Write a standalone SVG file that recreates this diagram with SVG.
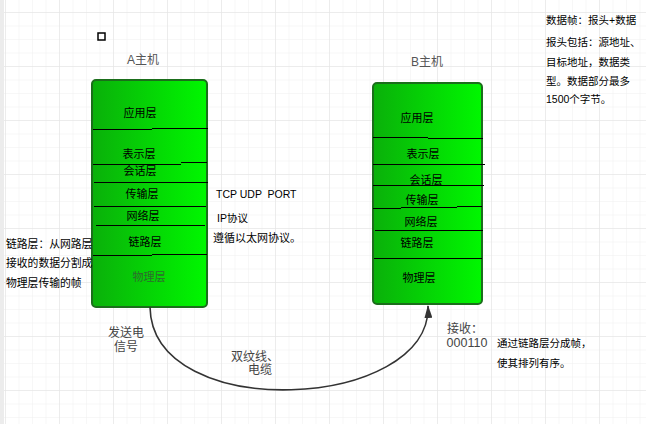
<svg xmlns="http://www.w3.org/2000/svg" width="646" height="424" viewBox="0 0 646 424">
<defs>
<pattern id="gMinor" x="5" y="12" width="13.5" height="13.5" patternUnits="userSpaceOnUse">
<path d="M0,0 H13.5 M0,0 V13.5" stroke="#efefef" stroke-width="1" fill="none"/>
</pattern>
<pattern id="gMajor" x="5" y="12" width="54" height="54" patternUnits="userSpaceOnUse">
<path d="M0,0 H54 M0,0 V54" stroke="#e2e2e2" stroke-width="1" fill="none"/>
</pattern>
<linearGradient id="greenGrad" x1="0" y1="0" x2="1" y2="0">
<stop offset="0" stop-color="#0ab00a"/>
<stop offset="1" stop-color="#00f800"/>
</linearGradient>
<marker id="arrow" viewBox="0 0 13 8" refX="12" refY="4" markerWidth="13" markerHeight="8" markerUnits="userSpaceOnUse" orient="auto">
<path d="M0,0 L13,4 L0,8 Z" fill="#333"/>
</marker>
<style>
.host{fill:url(#greenGrad);stroke:#1b6e1b;stroke-width:2}
.sep{stroke:#000;stroke-width:1;fill:none}
.lbl{font-family:"Liberation Sans","Noto Sans CJK SC",sans-serif;font-size:11px;fill:#000;text-anchor:middle;dominant-baseline:central}
.title{font-family:"Liberation Sans","Noto Sans CJK SC",sans-serif;font-size:12px;fill:#555;text-anchor:middle;dominant-baseline:central}
.note{font-family:"Liberation Sans","Noto Sans CJK SC",sans-serif;font-size:10.5px;fill:#000;dominant-baseline:central;white-space:pre}
.gray{font-family:"Liberation Sans","Noto Sans CJK SC",sans-serif;font-size:12px;fill:#444;text-anchor:middle;dominant-baseline:central}
.conn{fill:none;stroke:#333;stroke-width:1.6}
</style>
</defs>
<rect width="646" height="424" fill="#fff"/>
<rect width="646" height="424" fill="url(#gMinor)"/>
<rect width="646" height="424" fill="url(#gMajor)"/>
<rect x="0" y="0" width="4" height="424" fill="#ececec"/>
<rect x="98" y="33" width="7" height="7" fill="none" stroke="#000" stroke-width="1.5"/>

<g id="hostA">
<text class="title" x="143" y="60">A主机</text>
<rect class="host" x="92" y="80" width="115" height="227" rx="4"/>
<path class="sep" d="M93,129.5 H152 M152,128.5 H208"/>
<path class="sep" d="M93,164.5 H181 M181,162.5 H207"/>
<path class="sep" d="M94,182.5 H208"/>
<path class="sep" d="M94,206.5 H206"/>
<path class="sep" d="M96,225.5 H205"/>
<path class="sep" d="M93,255.5 H152 M152,254.5 H207"/>
<text class="lbl" x="140" y="113">应用层</text>
<text class="lbl" x="139" y="154">表示层</text>
<text class="lbl" x="140" y="171">会话层</text>
<text class="lbl" x="142" y="194">传输层</text>
<text class="lbl" x="143" y="216">网络层</text>
<text class="lbl" x="145" y="242">链路层</text>
<text class="lbl" x="149" y="277" style="fill:#2e6b2e">物理层</text>
</g>

<g id="hostB">
<text class="title" x="427" y="62">B主机</text>
<rect class="host" x="373" y="83" width="109" height="221" rx="4"/>
<path class="sep" d="M373,137.5 H428 M428,138.5 H483"/>
<path class="sep" d="M373,164.5 H485"/>
<path class="sep" d="M373,185.5 H484"/>
<path class="sep" d="M373,208.5 H401 M401,207.5 H457 M457,206.5 H482"/>
<path class="sep" d="M375,230.5 H483"/>
<path class="sep" d="M374,258.5 H482"/>
<text class="lbl" x="417" y="118">应用层</text>
<text class="lbl" x="423" y="154">表示层</text>
<text class="lbl" x="426" y="180">会话层</text>
<text class="lbl" x="422" y="200">传输层</text>
<text class="lbl" x="421" y="222">网络层</text>
<text class="lbl" x="417" y="243">链路层</text>
<text class="lbl" x="419" y="278">物理层</text>
</g>

<g id="connectors">
<path class="conn" d="M150,307 C152,425 432,410 428,306" marker-end="url(#arrow)"/>
</g>

<g id="labels">
<text class="gray" x="126" y="333">发送电</text>
<text class="gray" x="126" y="347">信号</text>
<text class="gray" x="255" y="357">双纹线、</text>
<text class="gray" x="260" y="370">电缆</text>
<text class="gray" x="465" y="329">接收：</text>
<text class="gray" x="467" y="343" style="font-size:12.5px">000110</text>
<text class="note" x="497" y="343">通过链路层分成帧，</text>
<text class="note" x="497" y="363">使其排列有序。</text>
<text class="note" x="216" y="194">TCP UDP  PORT</text>
<text class="note" x="217" y="218">IP协议</text>
<text class="note" x="213" y="238" style="font-size:11px">遵循以太网协议。</text>
<text class="note" x="6" y="244" style="font-size:10.8px">链路层：从网路层</text>
<text class="note" x="6" y="263" style="font-size:10.8px">接收的数据分割成</text>
<text class="note" x="6" y="283" style="font-size:10.8px">物理层传输的帧</text>
<text class="note" x="546" y="20">数据帧：报头+数据</text>
<text class="note" x="546" y="41.5">报头包括：源地址、</text>
<text class="note" x="546" y="61.5">目标地址，数据类</text>
<text class="note" x="546" y="80.5">型。数据部分最多</text>
<text class="note" x="546" y="99">1500个字节。</text>
</g>
</svg>
